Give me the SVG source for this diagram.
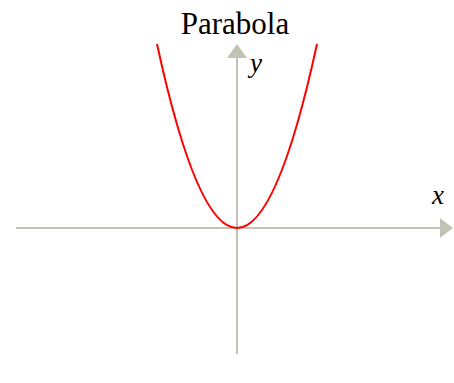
<svg xmlns="http://www.w3.org/2000/svg" width="454" height="383" viewBox="0 0 454 383">
<style>
.axis{stroke:#c3c3b5;stroke-width:2;fill:none}
.head{fill:#c3c3b5}
.title{font-family:"Liberation Serif","Times New Roman",serif;font-size:31px;fill:#000}
.lbl{font-family:"Liberation Serif","Times New Roman",serif;font-style:italic;font-size:27px;fill:#000}
</style>
<rect width="454" height="383" fill="#fff"/>
<text class="title" x="235" y="34" text-anchor="middle">Parabola</text>
<g id="connectors">
<line class="axis" x1="16" y1="228" x2="442" y2="228"/>
<polygon class="head" points="453,228 440,218 440,238"/>
<line class="axis" x1="237" y1="56" x2="237" y2="354"/>
<polygon class="head" points="237,44 227,58 247,58"/>
</g>
<g id="curve">
<path d="M157,44 Q237,412 317,44" fill="none" stroke="#ff0000" stroke-width="2"/>
</g>
<g id="labels">
<text class="lbl" x="250" y="72">y</text>
<text class="lbl" x="432" y="204">x</text>
</g>
</svg>
